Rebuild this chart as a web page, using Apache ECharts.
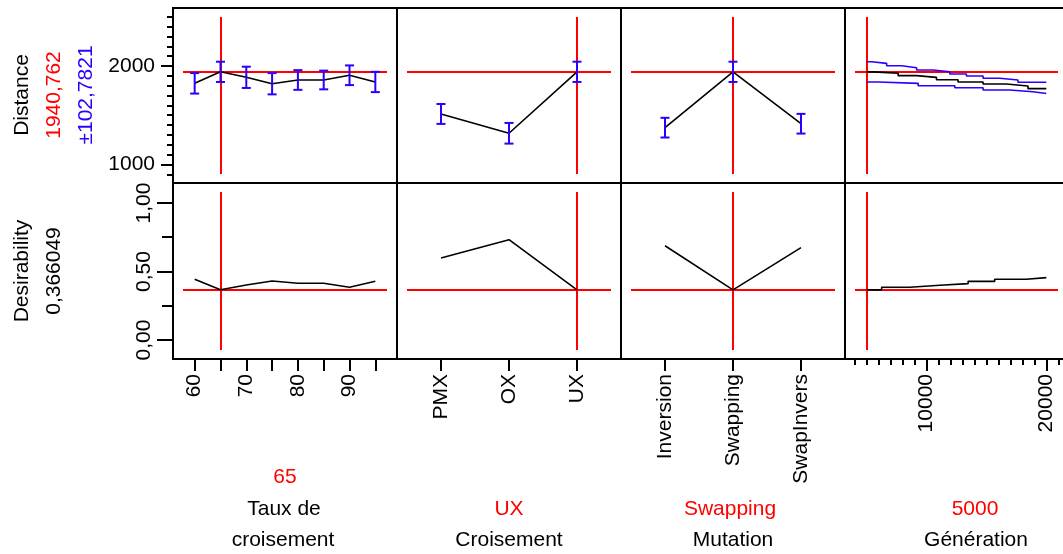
<!DOCTYPE html>
<html>
<head>
<meta charset="utf-8">
<script src="https://cdn.jsdelivr.net/npm/echarts@6/dist/echarts.min.js"></script>
<style>
  html, body { margin: 0; padding: 0; background: #fff; }
  #chart { width: 1063px; height: 554px; }
</style>
</head>
<body>
<div id="chart"></div>
<script>
// ---- Current factor settings and predicted response ----
const currentTaux = 65;
const currentCroisement = 'UX';
const currentMutation = 'Swapping';
const currentGeneration = 5000;
const distanceCurrent = 1940.762;
const distanceHalfWidth = 102.7821;
const desirabilityCurrent = 0.366049;

// ---- Taux de croisement ----
const tauxLevels = [60, 65, 70, 75, 80, 85, 90, 95];
const tauxDistance = [1824, distanceCurrent, 1885, 1820, 1858, 1858, 1906, 1838];
const tauxHalfWidth = [104, distanceHalfWidth, 108, 108, 100, 95, 100, 103];
const tauxDesirability = [0.443, desirabilityCurrent, 0.401, 0.431, 0.414, 0.414, 0.385, 0.428];
const tauxTickLabels = [60, 70, 80, 90];

// ---- Croisement ----
const croisementLevels = ['PMX', 'OX', 'UX'];
const croisementDistance = [1513, 1317, distanceCurrent];
const croisementHalfWidth = [101, 105, distanceHalfWidth];
const croisementDesirability = [0.599, 0.732, desirabilityCurrent];

// ---- Mutation ----
const mutationLevels = ['Inversion', 'Swapping', 'SwapInvers'];
const mutationDistance = [1374, distanceCurrent, 1414];
const mutationHalfWidth = [100, distanceHalfWidth, 100];
const mutationDesirability = [0.688, desirabilityCurrent, 0.674];

// ---- Génération: step traces (start of each level, level value) ----
const genEnd = 20000;
const genMeanSteps = [5000, 5550, 7630, 9170, 10830, 12630, 14720, 16670, 18470];
const genMeanLevels = [distanceCurrent, 1926, 1902, 1885, 1861, 1838, 1817, 1797, 1770];
const genUpperSteps = [5000, 5420, 6670, 7920, 9170, 10550, 11940, 13330, 14720, 16110, 17630];
const genUpperLevels = [distanceCurrent + distanceHalfWidth, 2027, 2003, 1983, 1959, 1942, 1919, 1898, 1875, 1858, 1835];
const genLowerSteps = [5000, 5970, 9300, 12360, 14720, 16940, 18880];
const genLowerLevels = [distanceCurrent - distanceHalfWidth, 1824, 1800, 1779, 1756, 1739, 1721];
const genDesirSteps = [5000, 6250, 8610, 11110, 13470, 15690, 18330];
const genDesirLevels = [desirabilityCurrent, 0.385, 0.399, 0.411, 0.428, 0.443, 0.455];
const genMajorTicks = [10000, 20000];
const genMinorTicks = [4000, 5000, 6000, 7000, 8000, 9000, 11000, 12000, 13000, 14000, 15000, 16000, 17000, 18000, 19000, 21000];

// ---- Response axes ticks ----
const distanceMajorTicks = [1000, 2000];
const distanceMinorTicks = [900, 1100, 1200, 1300, 1400, 1500, 1600, 1700, 1800, 1900, 2100, 2200, 2300, 2400, 2500];
const desirMajorTicks = [0, 0.5, 1];
const desirMinorTicks = [0.25, 0.75];

// ---- Styling ----
const FONT = 'Liberation Sans, Arial, Helvetica, sans-serif';
const RED = '#ff0000';
const BLUE = '#2a00ff';
const comma = v => String(v).replace('.', ',');

const cols = [
  { left: 173, width: 224 },
  { left: 397, width: 224 },
  { left: 621, width: 224 },
  { left: 845, width: 223 }
];
const rows = [
  { top: 8, height: 175 },
  { top: 183, height: 176 }
];

const xRanges = [
  [55.8, 99.2],
  [-0.647, 2.647],
  [-0.647, 2.647],
  [3190, 21810]
];
const yRanges = [
  [812, 2589],
  [-0.139, 1.146]
];

const grid = [];
rows.forEach(r => cols.forEach(c => grid.push({
  left: c.left, top: r.top, width: c.width, height: r.height,
  show: true, borderColor: '#000', borderWidth: 2, backgroundColor: 'transparent',
  containLabel: false, outerBoundsMode: 'none'
})));

const tickLabelStyle = { color: '#000', fontFamily: FONT, fontSize: 21 };
const hiddenLine = { show: false, onZero: false };

function xAxisFor(col, row) {
  const gi = row * 4 + col;
  const [min, max] = xRanges[col];
  const bottom = row === 1;
  const base = {
    type: 'value', gridIndex: gi, min, max, position: 'bottom',
    splitLine: { show: false },
    axisLine: hiddenLine,
    axisTick: { show: false },
    axisLabel: { show: false }
  };
  if (!bottom) return base;
  let values, labels, fmt;
  if (col === 0) { values = tauxLevels; labels = tauxTickLabels; fmt = v => String(v); }
  else if (col === 1) { values = [0, 1, 2]; labels = [0, 1, 2]; fmt = v => croisementLevels[Math.round(v)]; }
  else if (col === 2) { values = [0, 1, 2]; labels = [0, 1, 2]; fmt = v => mutationLevels[Math.round(v)]; }
  else { values = genMajorTicks; labels = genMajorTicks; fmt = v => String(v); }
  base.axisTick = { show: true, customValues: values, length: 12, lineStyle: { color: '#000', width: 2 } };
  base.axisLabel = Object.assign({ show: true, customValues: labels, rotate: 90, margin: 15, formatter: fmt }, tickLabelStyle);
  return base;
}

function yAxisFor(col, row) {
  const gi = row * 4 + col;
  const [min, max] = yRanges[row];
  const base = {
    type: 'value', gridIndex: gi, min, max, position: 'left',
    splitLine: { show: false },
    axisLine: hiddenLine,
    axisTick: { show: false },
    axisLabel: { show: false }
  };
  if (col !== 0) return base;
  if (row === 0) {
    base.axisTick = { show: true, customValues: distanceMajorTicks, length: 12, lineStyle: { color: '#000', width: 2 } };
    base.axisLabel = Object.assign({ show: true, customValues: distanceMajorTicks, margin: 18, formatter: v => String(v) }, tickLabelStyle);
  } else {
    base.axisTick = { show: true, customValues: desirMajorTicks, length: 16, lineStyle: { color: '#000', width: 2 } };
    base.axisLabel = Object.assign({ show: true, customValues: desirMajorTicks, rotate: 90, margin: 18,
      formatter: v => comma(Number(v).toFixed(2)) }, tickLabelStyle);
  }
  return base;
}

const xAxis = [];
const yAxis = [];
for (let row = 0; row < 2; row++) {
  for (let col = 0; col < 4; col++) {
    xAxis.push(xAxisFor(col, row));
    yAxis.push(yAxisFor(col, row));
  }
}
// minor tick axes (indices 8+)
function minorX(gi, col, values, len) {
  xAxis.push({ type: 'value', gridIndex: gi, min: xRanges[col][0], max: xRanges[col][1], position: 'bottom',
    splitLine: { show: false }, axisLine: hiddenLine, axisLabel: { show: false },
    axisTick: { show: true, customValues: values, length: len, lineStyle: { color: '#000', width: 2 } } });
}
function minorY(gi, row, values, len) {
  yAxis.push({ type: 'value', gridIndex: gi, min: yRanges[row][0], max: yRanges[row][1], position: 'left',
    splitLine: { show: false }, axisLine: hiddenLine, axisLabel: { show: false },
    axisTick: { show: true, customValues: values, length: len, lineStyle: { color: '#000', width: 2 } } });
}
minorX(7, 3, genMinorTicks, 6);
minorY(0, 0, distanceMinorTicks, 6);
minorY(4, 1, desirMinorTicks, 11);

const series = [];

function crosshair(gi, col, row, xv, yv) {
  const [x0, x1] = xRanges[col];
  const [y0, y1] = yRanges[row];
  const padX = (x1 - x0) * 10 / cols[col].width;
  const padY = (y1 - y0) * 9 / rows[row].height;
  series.push({
    type: 'line', xAxisIndex: gi, yAxisIndex: gi, data: [], z: 1, silent: true,
    markLine: {
      z: 1, silent: true, symbol: ['none', 'none'], animation: false,
      label: { show: false },
      lineStyle: { color: RED, width: 2, type: 'solid' },
      emphasis: { disabled: true },
      data: [
        [{ coord: [x0 + padX, yv] }, { coord: [x1 - padX, yv] }],
        [{ coord: [xv, y0 + padY] }, { coord: [xv, y1 - padY] }]
      ]
    }
  });
}

function profileLine(gi, xs, ys, color, step) {
  series.push({
    type: 'line', xAxisIndex: gi, yAxisIndex: gi, z: 3, silent: true,
    showSymbol: false, symbol: 'none', step: step || false, animation: false,
    lineStyle: { color: color || '#000', width: 1.6 },
    data: xs.map((x, i) => [x, ys[i]])
  });
}

function stepTrace(gi, steps, levels, color) {
  const xs = steps.concat([genEnd]);
  const ys = levels.concat([levels[levels.length - 1]]);
  profileLine(gi, xs, ys, color, 'end');
}

function errorBars(gi, xs, ys, hw) {
  series.push({
    type: 'custom', xAxisIndex: gi, yAxisIndex: gi, z: 6, silent: true, animation: false,
    data: xs.map((x, i) => [x, ys[i] - hw[i], ys[i] + hw[i]]),
    renderItem: (params, api) => {
      const lo = api.coord([api.value(0), api.value(1)]);
      const hi = api.coord([api.value(0), api.value(2)]);
      const cap = 4.5;
      const style = { stroke: BLUE, lineWidth: 2, fill: null };
      return {
        type: 'group',
        children: [
          { type: 'line', shape: { x1: lo[0], y1: lo[1], x2: hi[0], y2: hi[1] }, style },
          { type: 'line', shape: { x1: lo[0] - cap, y1: lo[1], x2: lo[0] + cap, y2: lo[1] }, style },
          { type: 'line', shape: { x1: hi[0] - cap, y1: hi[1], x2: hi[0] + cap, y2: hi[1] }, style }
        ]
      };
    }
  });
}

const catIdx = [0, 1, 2];

// Top row: Distance
crosshair(0, 0, 0, currentTaux, distanceCurrent);
profileLine(0, tauxLevels, tauxDistance);
errorBars(0, tauxLevels, tauxDistance, tauxHalfWidth);

crosshair(1, 1, 0, croisementLevels.indexOf(currentCroisement), distanceCurrent);
profileLine(1, catIdx, croisementDistance);
errorBars(1, catIdx, croisementDistance, croisementHalfWidth);

crosshair(2, 2, 0, mutationLevels.indexOf(currentMutation), distanceCurrent);
profileLine(2, catIdx, mutationDistance);
errorBars(2, catIdx, mutationDistance, mutationHalfWidth);

crosshair(3, 3, 0, currentGeneration, distanceCurrent);
stepTrace(3, genUpperSteps, genUpperLevels, BLUE);
stepTrace(3, genLowerSteps, genLowerLevels, BLUE);
stepTrace(3, genMeanSteps, genMeanLevels, '#000');

// Bottom row: Desirability
crosshair(4, 0, 1, currentTaux, desirabilityCurrent);
profileLine(4, tauxLevels, tauxDesirability);

crosshair(5, 1, 1, croisementLevels.indexOf(currentCroisement), desirabilityCurrent);
profileLine(5, catIdx, croisementDesirability);

crosshair(6, 2, 1, mutationLevels.indexOf(currentMutation), desirabilityCurrent);
profileLine(6, catIdx, mutationDesirability);

crosshair(7, 3, 1, currentGeneration, desirabilityCurrent);
stepTrace(7, genDesirSteps, genDesirLevels, '#000');

// Text annotations: response labels (left) and factor labels (bottom)
const TXT = 21;
function vText(text, x, y, color) {
  return { type: 'text', x, y, rotation: Math.PI / 2, silent: true,
    style: { text, fill: color, font: TXT + 'px ' + FONT, align: 'center', verticalAlign: 'middle' } };
}
function hText(text, x, y, color) {
  return { type: 'text', x, y, silent: true,
    style: { text, fill: color, font: TXT + 'px ' + FONT, align: 'center', verticalAlign: 'middle' } };
}
const graphic = [
  vText('Distance', 22, 95, '#000'),
  vText(comma(distanceCurrent), 54, 95, RED),
  vText('±' + comma(distanceHalfWidth), 86, 95, BLUE),
  vText('Desirability', 22, 271, '#000'),
  vText(comma(desirabilityCurrent), 54, 271, '#000'),
  hText(String(currentTaux), 285, 477, RED),
  hText('Taux de', 284, 509, '#000'),
  hText('croisement', 283, 540, '#000'),
  hText(currentCroisement, 509, 509, RED),
  hText('Croisement', 509, 540, '#000'),
  hText(currentMutation, 730, 509, RED),
  hText('Mutation', 733, 540, '#000'),
  hText(String(currentGeneration), 975, 509, RED),
  hText('Génération', 976, 540, '#000')
];

const chart = echarts.init(document.getElementById('chart'), null, { renderer: 'canvas' });
chart.setOption({
  animation: false,
  backgroundColor: '#fff',
  grid, xAxis, yAxis, series, graphic
});
</script>
</body>
</html>
